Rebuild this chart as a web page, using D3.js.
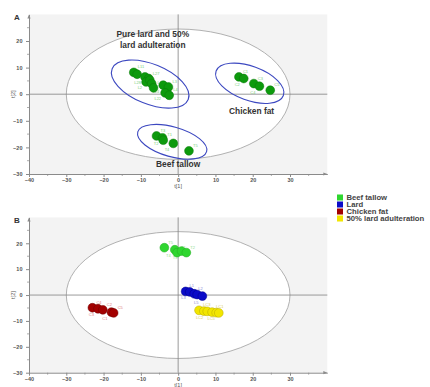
<!DOCTYPE html>
<html>
<head>
<meta charset="utf-8">
<script src="https://cdn.jsdelivr.net/npm/d3@7"></script>
<style>
  body { margin: 0; background: #fff; }
  text { font-family: "Liberation Sans", Arial, sans-serif; }
</style>
</head>
<body>
<div id="chart"></div>
<script>
// tick values shared by both panels
const xTicks = [-40, -30, -20, -10, 0, 10, 20, 30];
const yTicks = [-30, -20, -10, 0, 10, 20];

// panel A: all samples, one colour
const lardMixA = [
  [-11.9, 8.2, "L11"], [-11.0, 7.5, ""], [-8.9, 6.5, "L28"], [-7.9, 5.9, "L27"],
  [-8.6, 4.6, "L2"], [-7.6, 5.3, ""], [-7.1, 4.0, ""], [-6.6, 2.4, "L1"],
  [-4.0, 3.4, "L24"], [-2.6, 2.7, "L3"], [-3.5, 0.5, "L22"], [-2.4, -0.4, "L4"]
];
const tallowA = [
  [-5.8, -15.7, "T3"], [-4.2, -16.4, "T2"], [-4.0, -17.3, "T1"], [-1.3, -18.5, "T4"], [2.9, -21.3, "T5"]
];
const chickenA = [
  [16.3, 6.5, "C1"], [17.6, 5.9, "C2"], [20.3, 4.0, "C3"], [21.8, 3.0, "C4"], [24.7, 1.5, "C5"]
];

// panel B: four groups
const legendNames = ["Beef tallow", "Lard", "Chicken fat", "50% lard adulteration"];
const legendColors = ["#2fd62f", "#0b0bc8", "#a30000", "#f2e600"];
const tallowB = [
  [-3.7, 18.3, "T5"], [-0.9, 17.5, "T4"], [-0.3, 16.4, "T1"], [0.9, 17.0, "T3"], [2.2, 16.4, "T2"]
];
const lardB = [
  [2.0, 1.4, "L1"], [3.1, 1.2, "L3"], [4.3, 0.5, "L2"], [5.1, 0.2, ""], [6.5, -0.4, "L5"]
];
const chickenB = [
  [-23.0, -4.9, "C4"], [-21.5, -5.3, "C3"], [-20.2, -5.7, "C2"], [-17.9, -6.6, "C1"], [-17.3, -6.9, "C5"]
];
const adultB = [
  [5.6, -5.9, "LC3"], [6.9, -6.2, ""], [7.8, -6.3, "LC2"], [9.1, -6.6, "LC1"], [10.2, -6.8, ""], [10.9, -6.9, "LC5"]
];

// group outlines in panel A: centre x, centre y, semi axes (data units), tilt (deg)
const groupRings = [
  [-7.5, 3.8, 11.0, 7.5, 22],
  [-1.6, -17.9, 9.6, 5.6, 16],
  [19.2, 4.1, 9.6, 6.4, 20]
];
const groupLabels = [
  ["Pure lard and 50%", -6.8, 21.5],
  ["lard adulteration", -6.8, 17.3],
  ["Chicken fat", 19.7, -7.6],
  ["Beef tallow", 0, -27.5]
];

const width = 430, height = 387;
const svg = d3.select("#chart").append("svg")
  .attr("width", width).attr("height", height);

const x = d3.scaleLinear().domain([-40, 40]).range([29, 327.3]);

function drawPanel(letter, top, bottom) {
  const y = d3.scaleLinear().domain([-30, 30]).range([bottom, top]);
  const g = svg.append("g");

  g.append("rect")
    .attr("x", x(-40)).attr("y", y(30))
    .attr("width", x(40) - x(-40)).attr("height", y(-30) - y(30))
    .attr("fill", "#f3f3f3");

  // Hotelling ellipse
  g.append("ellipse")
    .attr("cx", x(0)).attr("cy", y(0))
    .attr("rx", x(30) - x(0)).attr("ry", y(0) - y(24.5))
    .attr("fill", "#fff").attr("stroke", "#a8a8a8").attr("stroke-width", 0.9);

  // zero lines
  g.append("line")
    .attr("x1", x(0)).attr("x2", x(0)).attr("y1", y(30)).attr("y2", y(-30))
    .attr("stroke", "#808080").attr("stroke-width", 0.8);
  g.append("line")
    .attr("x1", x(-40)).attr("x2", x(40)).attr("y1", y(0)).attr("y2", y(0))
    .attr("stroke", "#808080").attr("stroke-width", 0.8);

  // axes
  const xAxis = g.append("g").attr("transform", `translate(0,${y(-30)})`)
    .call(d3.axisBottom(x).tickValues(xTicks).tickSize(3).tickSizeOuter(0));
  const yAxis = g.append("g").attr("transform", `translate(${x(-40)},0)`)
    .call(d3.axisLeft(y).tickValues(yTicks).tickSize(3).tickSizeOuter(0));
  [xAxis, yAxis].forEach(a => {
    a.select(".domain").attr("stroke", "#8a8a8a");
    a.selectAll(".tick line").attr("stroke", "#8a8a8a");
    a.selectAll(".tick text").attr("fill", "#555").attr("font-size", 5.5)
      .attr("font-weight", "bold");
  });
  xAxis.selectAll(".tick text").attr("dy", "0.4em");
  yAxis.selectAll(".tick text").attr("dx", "-0.1em");

  // minor ticks
  const minorX = d3.range(-35, 40, 10);
  const minorY = d3.range(-25, 30, 10);
  g.selectAll(null).data(minorX).join("line")
    .attr("x1", d => x(d)).attr("x2", d => x(d))
    .attr("y1", y(-30)).attr("y2", y(-30) + 2)
    .attr("stroke", "#8a8a8a").attr("stroke-width", 0.7);
  g.selectAll(null).data(minorY).join("line")
    .attr("y1", d => y(d)).attr("y2", d => y(d))
    .attr("x1", x(-40)).attr("x2", x(-40) - 2)
    .attr("stroke", "#8a8a8a").attr("stroke-width", 0.7);

  // arrows
  const ax = x(40), ay = y(-30);
  g.append("path").attr("d", `M${ax - 4},${ay - 1.6}L${ax},${ay}L${ax - 4},${ay + 1.6}Z`).attr("fill", "#8a8a8a");
  const bx = x(-40), by = y(30);
  g.append("path").attr("d", `M${bx - 1.6},${by + 4}L${bx},${by}L${bx + 1.6},${by + 4}Z`).attr("fill", "#8a8a8a");

  g.append("text").attr("x", x(0)).attr("y", y(-30) + 14)
    .attr("text-anchor", "middle").attr("font-size", 5.5).attr("fill", "#555").text("t[1]");
  g.append("text").attr("transform", `translate(${x(-40) - 14},${y(0)}) rotate(-90)`)
    .attr("text-anchor", "middle").attr("font-size", 5.5).attr("fill", "#555").text("t[2]");
  g.append("text").attr("x", 14).attr("y", y(30) + 6)
    .attr("font-size", 8).attr("font-weight", "bold").attr("fill", "#333").text(letter);

  return { g, y };
}

function drawPoints(panel, pts, fill, stroke, labelColor) {
  const { g, y } = panel;
  // tiny sample names, alternating above-right / below-left
  g.selectAll(null).data(pts.filter(d => d[2])).join("text")
    .attr("x", (d, i) => x(d[0]) + (i % 2 ? -4 : 4))
    .attr("y", (d, i) => y(d[1]) + (i % 2 ? 7.5 : -4))
    .attr("text-anchor", (d, i) => i % 2 ? "end" : "start")
    .attr("font-size", 4).attr("fill", labelColor).text(d => d[2]);
  g.selectAll(null).data(pts).join("circle")
    .attr("cx", d => x(d[0])).attr("cy", d => y(d[1])).attr("r", 4.4)
    .attr("fill", fill).attr("stroke", stroke).attr("stroke-width", 0.5);
}

// ---- panel A
const pA = drawPanel("A", 14.4, 174);
groupRings.forEach(r => {
  const [cx, cy, rx, ry, ang] = r;
  pA.g.append("ellipse")
    .attr("transform", `translate(${x(cx)},${pA.y(cy)}) rotate(${ang})`)
    .attr("rx", x(rx) - x(0)).attr("ry", pA.y(0) - pA.y(ry))
    .attr("fill", "none").attr("stroke", "#3c48c0").attr("stroke-width", 1.1);
});
[lardMixA, tallowA, chickenA].forEach(s => drawPoints(pA, s, "#0d9a0d", "#0a7a0a", "#7ccf7c"));
pA.g.selectAll(null).data(groupLabels).join("text")
  .attr("x", d => x(d[1])).attr("y", d => pA.y(d[2]))
  .attr("text-anchor", "middle").attr("font-size", 8.4).attr("font-weight", "bold")
  .attr("fill", "#333").text(d => d[0]);

// ---- panel B
const pB = drawPanel("B", 217.4, 372.7);
drawPoints(pB, tallowB, legendColors[0], "#22aa22", "#8fe08f");
drawPoints(pB, lardB, legendColors[1], "#00008a", "#8c8cd8");
drawPoints(pB, chickenB, legendColors[2], "#700000", "#e08080");
drawPoints(pB, adultB, legendColors[3], "#b8a800", "#d8cc60");

// legend
const legend = svg.append("g").attr("transform", "translate(337,194.5)");
legend.selectAll(null).data(legendNames).join("rect")
  .attr("x", 0).attr("y", (d, i) => i * 7).attr("width", 6).attr("height", 6)
  .attr("fill", (d, i) => legendColors[i]);
legend.selectAll(null).data(legendNames).join("text")
  .attr("x", 9.5).attr("y", (d, i) => i * 7 + 5.6)
  .attr("font-size", 7.7).attr("font-weight", "bold").attr("fill", "#444")
  .text(d => d);
</script>
</body>
</html>
